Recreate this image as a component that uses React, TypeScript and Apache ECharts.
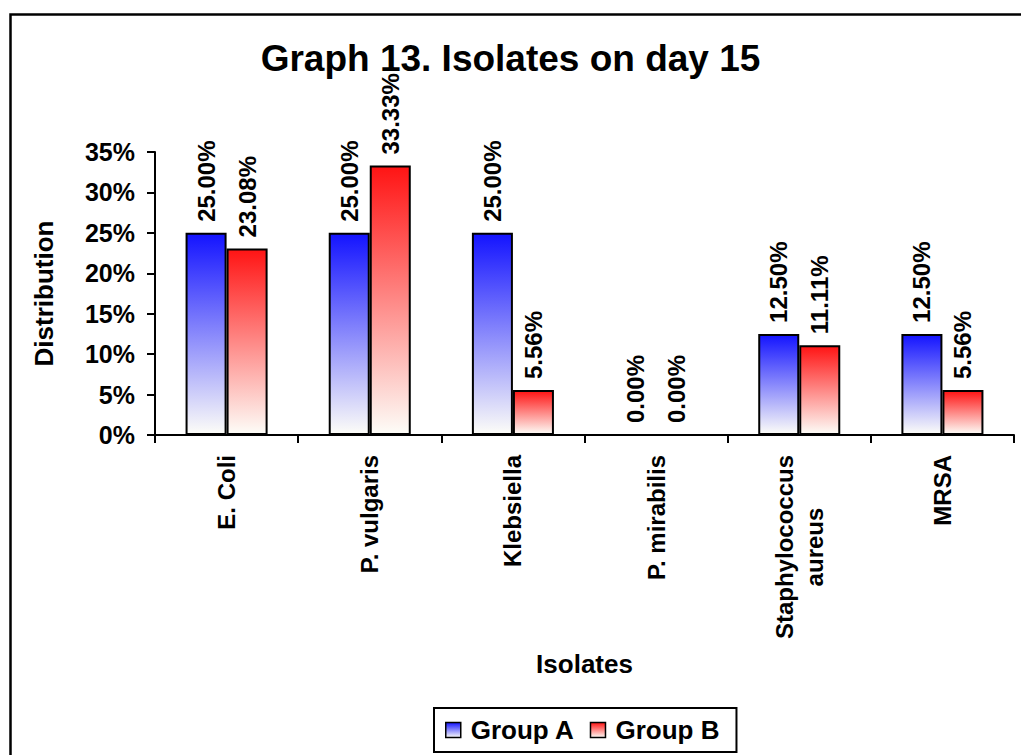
import React, { useEffect, useRef } from "react";
import * as echarts from "echarts";

// Isolate share (%) per group on day 15
const categories = [
  "E. Coli",
  "P. vulgaris",
  "Klebsiella",
  "P. mirabilis",
  "Staphylococcus\naureus",
  "MRSA",
];
const groupA = [25.0, 25.0, 25.0, 0.0, 12.5, 12.5];
const groupB = [23.08, 33.33, 5.56, 0.0, 11.11, 5.56];
const seriesNames = ["Group A", "Group B"];
const yMin = 0;
const yMax = 35;
const yStep = 5;

const FONT = "'Liberation Sans', Arial, Helvetica, sans-serif";

const fade = (top: string) =>
  new echarts.graphic.LinearGradient(0, 0, 0, 1, [
    { offset: 0, color: top },
    { offset: 1, color: "#fdfdf8" },
  ]);

export default function App() {
  const ref = useRef<HTMLDivElement>(null);

  useEffect(() => {
    if (!ref.current) return;
    const chart = echarts.init(ref.current, null, { renderer: "svg" });

    const barLabel = {
      show: true,
      position: "top",
      rotate: 90,
      align: "left",
      verticalAlign: "middle",
      distance: 11,
      color: "#000",
      fontFamily: FONT,
      fontWeight: "bold",
      fontSize: 24,
      formatter: (p: any) => `${Number(p.value).toFixed(2)}%`,
    };

    chart.setOption({
      animation: false,
      backgroundColor: "#fff",
      textStyle: { fontFamily: FONT },
      title: {
        text: "Graph 13. Isolates on day 15",
        left: "center",
        top: 35,
        padding: [5, 0, 5, 12],
        textStyle: {
          fontFamily: FONT,
          fontWeight: "bold",
          fontSize: 37,
          color: "#000",
        },
      },
      graphic: [
        {
          type: "rect",
          silent: true,
          shape: { x: 10.5, y: 14.5, width: 1100, height: 900 },
          style: { fill: "none", stroke: "#000", lineWidth: 2.5 },
        },
      ],
      legend: {
        data: seriesNames,
        left: 434,
        top: 708,
        orient: "horizontal",
        icon: "rect",
        itemWidth: 15,
        itemHeight: 15,
        itemGap: 15,
        padding: [9, 17, 9, 11],
        borderColor: "#000",
        borderWidth: 2,
        itemStyle: { borderColor: "#000", borderWidth: 1.5 },
        textStyle: {
          fontFamily: FONT,
          fontWeight: "bold",
          fontSize: 26,
          color: "#000",
          padding: [0, 0, 0, 5],
        },
      },
      grid: {
        left: 155,
        right: 7,
        top: 152,
        bottom: 320,
        containLabel: false,
        outerBoundsMode: "none",
      },
      xAxis: {
        type: "category",
        data: categories,
        name: "Isolates",
        nameLocation: "middle",
        nameGap: 216,
        nameTextStyle: {
          fontFamily: FONT,
          fontWeight: "bold",
          fontSize: 26,
          color: "#000",
        },
        axisLine: { show: true, lineStyle: { color: "#000", width: 2 } },
        axisTick: {
          show: true,
          length: 8,
          alignWithLabel: false,
          lineStyle: { color: "#000", width: 2 },
        },
        axisLabel: {
          rotate: 90,
          margin: 20,
          interval: 0,
          color: "#000",
          formatter: (v: string) =>
            v
              .split("\n")
              .map((line) => `{c|${line}}`)
              .join("\n"),
          rich: {
            c: {
              align: "center",
              fontFamily: FONT,
              fontWeight: "bold",
              fontSize: 24,
              lineHeight: 30,
              color: "#000",
            },
          },
        },
        splitLine: { show: false },
      },
      yAxis: {
        type: "value",
        min: yMin,
        max: yMax,
        interval: yStep,
        name: "Distribution",
        nameLocation: "middle",
        nameGap: 98,
        nameTextStyle: {
          fontFamily: FONT,
          fontWeight: "bold",
          fontSize: 26,
          color: "#000",
        },
        axisLine: { show: true, lineStyle: { color: "#000", width: 2 } },
        axisTick: { show: true, length: 8, lineStyle: { color: "#000", width: 2 } },
        axisLabel: {
          formatter: "{value}%",
          margin: 20,
          fontFamily: FONT,
          fontWeight: "bold",
          fontSize: 25,
          color: "#000",
        },
        splitLine: { show: false },
      },
      series: [
        {
          name: seriesNames[0],
          type: "bar",
          data: groupA,
          barGap: "0%",
          barCategoryGap: "42.7%",
          itemStyle: { color: fade("#1414ff"), borderColor: "#000", borderWidth: 2 },
          label: barLabel,
        },
        {
          name: seriesNames[1],
          type: "bar",
          data: groupB,
          barGap: "0%",
          barCategoryGap: "42.7%",
          itemStyle: { color: fade("#ff1414"), borderColor: "#000", borderWidth: 2 },
          label: barLabel,
        },
      ],
    });

    return () => chart.dispose();
  }, []);

  return (
    <div
      ref={ref}
      style={{ position: "absolute", left: 0, top: 0, width: 1021, height: 755 }}
    />
  );
}
